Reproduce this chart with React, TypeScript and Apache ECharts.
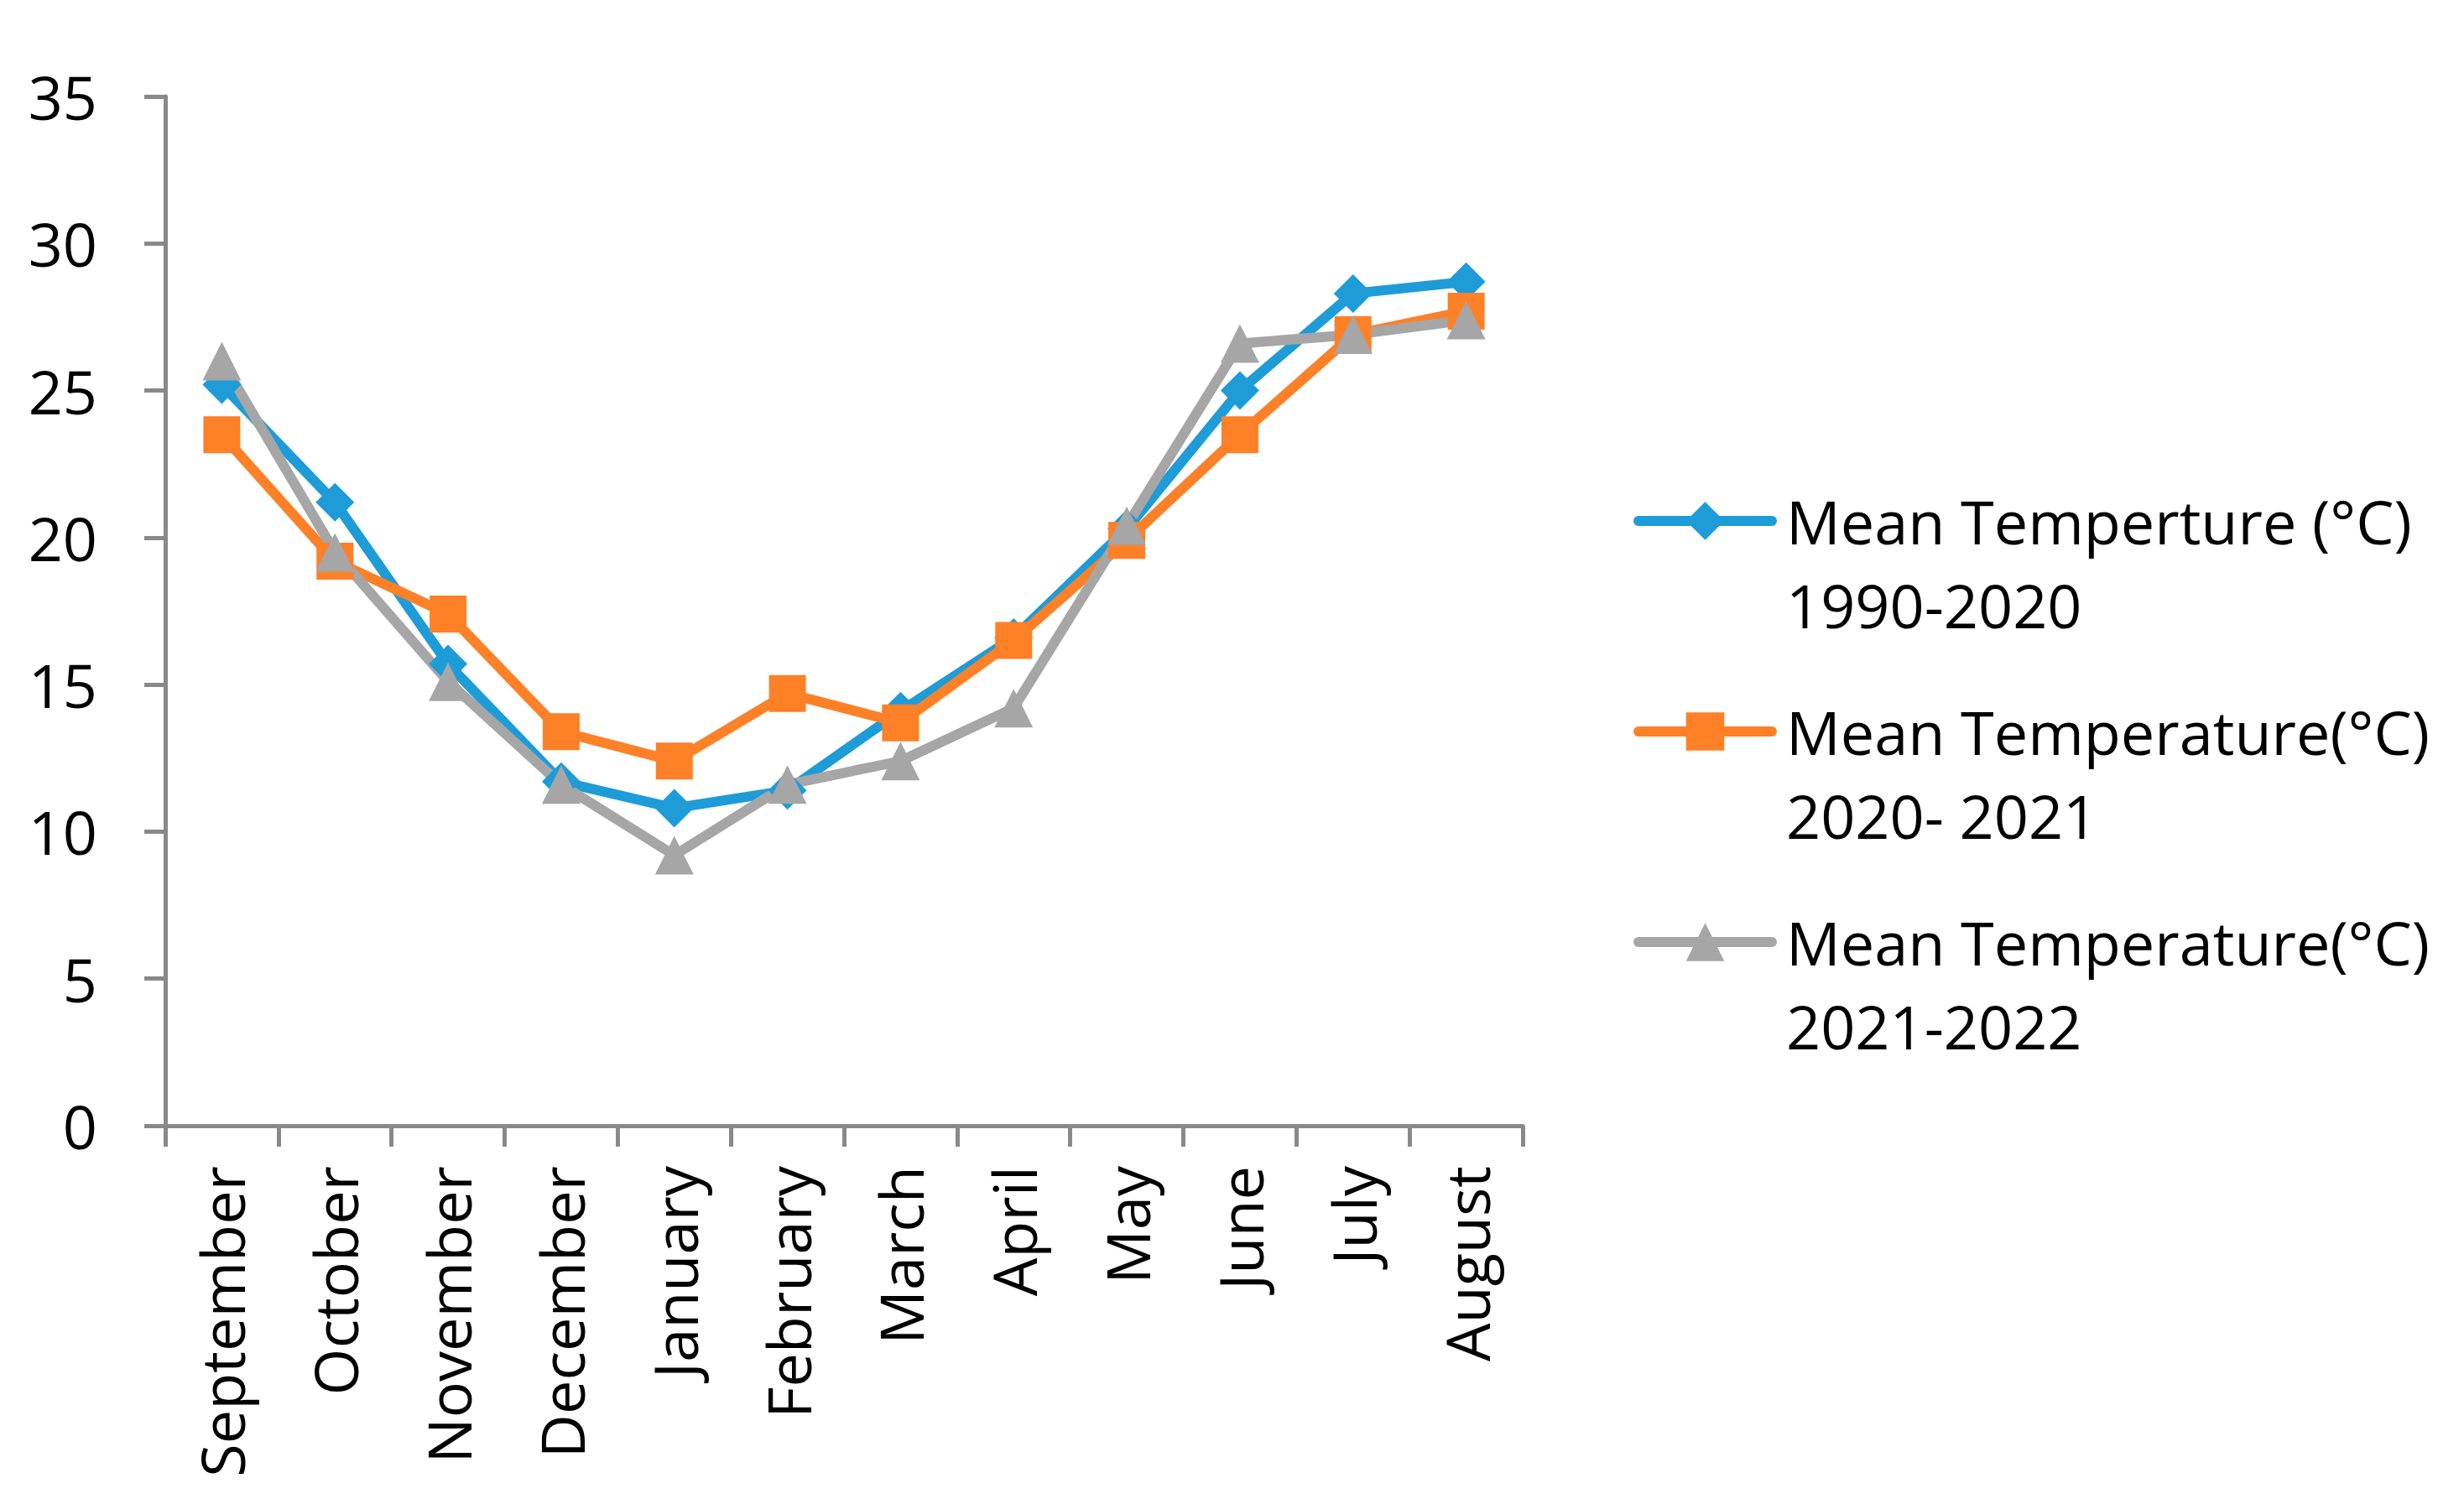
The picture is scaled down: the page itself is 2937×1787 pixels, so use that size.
import React, { useEffect, useRef } from 'react';
import * as echarts from 'echarts';

const months = ['September', 'October', 'November', 'December', 'January', 'February', 'March', 'April', 'May', 'June', 'July', 'August'];
const mean1990_2020 = [25.2, 21.2, 15.7, 11.7, 10.8, 11.4, 14.1, 16.6, 20.3, 25.0, 28.3, 28.7];
const mean2020_2021 = [23.5, 19.2, 17.4, 13.4, 12.4, 14.7, 13.7, 16.5, 19.9, 23.5, 26.9, 27.7];
const mean2021_2022 = [26.0, 19.5, 15.1, 11.6, 9.2, 11.6, 12.4, 14.2, 20.4, 26.6, 26.9, 27.4];
const seriesNames = [
  'Mean Temperture (°C)\n1990-2020',
  'Mean Temperature(°C)\n2020- 2021',
  'Mean Temperature(°C)\n2021-2022',
];
const yMin = 0;
const yMax = 35;
const yStep = 5;

const FONT = 'Open Sans';
const AXIS_COLOR = '#898989';

export default function App() {
  const ref = useRef<HTMLDivElement>(null);
  useEffect(() => {
    const chart = echarts.init(ref.current!, null, { renderer: 'svg' });
    const mk = (name: string, data: number[], color: string, symbol: string, size: number) => ({
      name,
      type: 'line',
      data,
      symbol,
      symbolSize: size,
      showSymbol: true,
      lineStyle: { color, width: 12, cap: 'round', join: 'round' },
      itemStyle: { color, borderWidth: 0 },
      emphasis: { disabled: true },
      z: 2,
    });
    chart.setOption({
      animation: false,
      backgroundColor: '#ffffff',
      textStyle: { fontFamily: FONT },
      grid: { left: 197, right: 1122, top: 115, bottom: 445, containLabel: false },
      xAxis: {
        type: 'category',
        data: months,
        boundaryGap: true,
        axisLine: { show: true, lineStyle: { color: AXIS_COLOR, width: 5 } },
        axisTick: { show: true, interval: 0, length: 25, lineStyle: { color: AXIS_COLOR, width: 5 } },
        axisLabel: { interval: 0, rotate: 90, margin: 48, color: '#000', fontSize: 72, fontFamily: FONT },
        splitLine: { show: false },
      },
      yAxis: {
        type: 'value',
        min: yMin,
        max: yMax,
        interval: yStep,
        axisLine: { show: true, lineStyle: { color: AXIS_COLOR, width: 5 } },
        axisTick: { show: true, length: 25, lineStyle: { color: AXIS_COLOR, width: 5 } },
        axisLabel: { margin: 81, color: '#000', fontSize: 72, fontFamily: FONT },
        splitLine: { show: false },
      },
      legend: {
        orient: 'vertical',
        left: 1947,
        top: 471,
        padding: 0,
        itemWidth: 159,
        itemHeight: 57,
        itemGap: -49,
        data: seriesNames,
        formatter: (name: string) => '\n' + name,
        lineStyle: { width: 12, cap: 'round' },
        textStyle: {
          fontFamily: FONT,
          fontSize: 72,
          color: '#000',
          lineHeight: 100,
          padding: [0, 0, 0, 12],
        },
      },
      series: [
        mk(seriesNames[0], mean1990_2020, '#1E9CD8', 'diamond', 46),
        mk(seriesNames[1], mean2020_2021, '#FE8027', 'rect', 44),
        mk(seriesNames[2], mean2021_2022, '#A6A6A6', 'triangle', 46),
      ],
    });
    return () => chart.dispose();
  }, []);
  return (
    <div
      ref={ref}
      style={{ position: 'fixed', left: 0, top: 0, width: 2937, height: 1787, background: '#fff' }}
    />
  );
}
